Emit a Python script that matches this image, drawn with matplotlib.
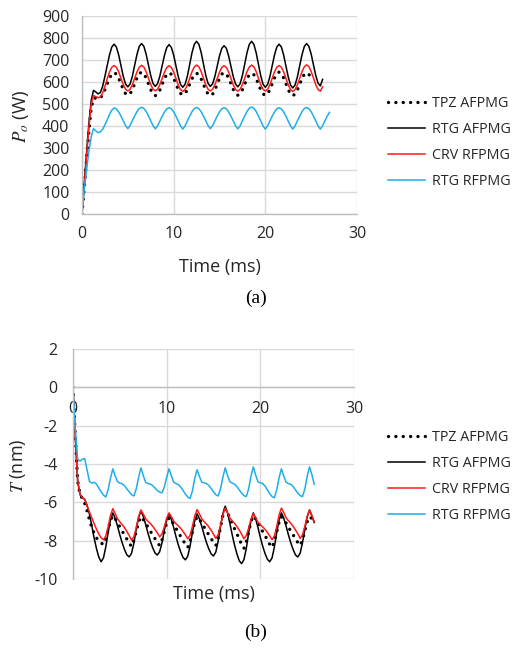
import numpy as np
import matplotlib
matplotlib.use('Agg')
import matplotlib.pyplot as plt

plt.rcParams['font.family'] = ['Open Sans', 'DejaVu Sans']
plt.rcParams['mathtext.fontset'] = 'stix'
plt.rcParams['axes.unicode_minus'] = False

# ---------------- data ----------------
step = 0.25
time_top = np.arange(0, 27.0 + 1e-9, step)
time_bot = np.arange(0, 25.75 + 1e-9, step)

labels = ['TPZ AFPMG', 'RTG AFPMG', 'CRV RFPMG', 'RTG RFPMG']

# (a) output power Po (W)
po_tpz_afpmg = [
    0, 120, 250, 375, 480, 525, 527, 523, 527, 542, 565, 592,
    617, 636, 643, 636, 617, 592, 566, 547, 540, 547, 566, 592,
    619, 638, 645, 638, 618, 592, 565, 545, 538, 545, 564, 590,
    616, 635, 642, 635, 617, 592, 566, 548, 541, 548, 566, 590,
    615, 633, 640, 633, 614, 589, 564, 545, 538, 545, 564, 590,
    617, 636, 643, 636, 617, 592, 566, 547, 540, 547, 565, 590,
    615, 633, 640, 633, 615, 590, 564, 546, 539, 546, 566, 592,
    618, 638, 645, 638, 618, 592, 565, 545, 538, 545, 564, 590,
    616, 635, 642, 635, 617]
po_rtg_afpmg = [
    0, 140, 280, 410, 515, 562, 555, 546, 552, 580, 626, 675,
    723, 759, 772, 759, 723, 675, 626, 591, 578, 591, 627, 677,
    726, 762, 775, 762, 726, 677, 629, 593, 580, 593, 628, 675,
    722, 757, 770, 757, 722, 673, 625, 589, 576, 590, 628, 680,
    733, 771, 785, 771, 734, 682, 631, 594, 580, 592, 626, 672,
    719, 753, 765, 753, 718, 671, 625, 591, 578, 592, 630, 681,
    733, 771, 785, 771, 733, 680, 628, 590, 576, 589, 625, 674,
    723, 759, 772, 759, 722, 672, 623, 586, 573, 587, 624, 674,
    724, 761, 775, 762, 727, 678, 630, 595, 582, 612]
po_crv_rfpmg = [
    0, 130, 265, 395, 500, 538, 534, 528, 532, 550, 580, 615,
    645, 667, 675, 667, 646, 617, 588, 567, 559, 567, 588, 617,
    646, 667, 676, 668, 646, 617, 588, 567, 560, 568, 589, 617,
    645, 666, 674, 666, 645, 616, 586, 565, 557, 566, 587, 617,
    647, 668, 677, 669, 647, 617, 588, 567, 559, 567, 588, 616,
    645, 666, 674, 666, 645, 616, 587, 566, 558, 567, 588, 617,
    647, 668, 677, 669, 647, 617, 588, 567, 559, 567, 588, 617,
    646, 667, 675, 667, 646, 616, 587, 566, 557, 566, 587, 617,
    647, 669, 678, 670, 648, 618, 588, 566, 558, 578]
po_rtg_rfpmg = [
    0, 110, 200, 285, 350, 388, 378, 370, 373, 385, 405, 428,
    452, 472, 482, 478, 464, 445, 424, 402, 388, 402, 425, 446,
    466, 480, 485, 480, 466, 446, 424, 401, 387, 401, 423, 445,
    464, 478, 483, 478, 464, 444, 423, 400, 386, 401, 424, 445,
    465, 479, 484, 479, 465, 445, 424, 402, 388, 402, 424, 445,
    464, 478, 483, 478, 464, 444, 423, 401, 387, 401, 424, 446,
    466, 481, 486, 481, 466, 445, 423, 400, 386, 401, 423, 445,
    464, 478, 483, 478, 464, 444, 422, 400, 386, 401, 424, 445,
    465, 479, 484, 479, 465, 445, 423, 400, 386, 401, 424, 445, 462]

# (b) torque T (nm)
t_tpz_afpmg = [
    0, -2.6, -4.9, -5.6, -5.8, -6.05, -6.45, -6.9, -7.3, -7.6, -7.85, -8.0,
    -8.12, -8.2, -7.9, -7.45, -6.97, -6.7, -6.86, -7.05, -7.28, -7.5, -7.71, -7.92,
    -8.14, -8.3, -7.99, -7.53, -7.03, -6.75, -6.9, -7.08, -7.29, -7.5, -7.7, -7.89,
    -8.1, -8.25, -7.96, -7.53, -7.06, -6.8, -6.96, -7.14, -7.36, -7.58, -7.78, -7.98,
    -8.2, -8.35, -8.03, -7.55, -7.04, -6.75, -6.9, -7.08, -7.29, -7.5, -7.7, -7.89,
    -8.1, -8.25, -7.87, -7.3, -6.69, -6.35, -6.56, -6.8, -7.09, -7.38, -7.64, -7.91,
    -8.2, -8.4, -8.06, -7.55, -7.01, -6.7, -6.87, -7.06, -7.29, -7.53, -7.74, -7.95,
    -8.19, -8.35, -8.03, -7.55, -7.04, -6.75, -6.9, -7.08, -7.29, -7.5, -7.7, -7.89,
    -8.1, -8.25, -7.95, -7.5, -7.02, -6.75, -6.85, -7.0]
t_rtg_afpmg = [
    0, -2.6, -4.9, -5.6, -5.75, -5.85, -6.15, -6.6, -7.2, -7.85, -8.4, -8.85,
    -9.1, -8.9, -8.33, -7.57, -6.93, -6.55, -6.83, -7.24, -7.7, -8.11, -8.46, -8.74,
    -8.85, -8.66, -8.13, -7.41, -6.81, -6.45, -6.73, -7.14, -7.6, -8.01, -8.36, -8.64,
    -8.75, -8.58, -8.11, -7.46, -6.92, -6.6, -6.89, -7.32, -7.8, -8.23, -8.59, -8.88,
    -9.0, -8.81, -8.28, -7.56, -6.96, -6.6, -6.86, -7.26, -7.7, -8.1, -8.43, -8.69,
    -8.8, -8.59, -8.02, -7.24, -6.59, -6.2, -6.56, -7.1, -7.7, -8.24, -8.69, -9.05,
    -9.2, -8.99, -8.41, -7.61, -6.95, -6.55, -6.86, -7.32, -7.83, -8.28, -8.67, -8.97,
    -9.1, -8.9, -8.33, -7.57, -6.93, -6.55, -6.83, -7.24, -7.7, -8.11, -8.46, -8.74,
    -8.85, -8.65, -8.12, -7.38, -6.77, -6.4, -6.7, -7.05]
t_crv_rfpmg = [
    0, -2.6, -4.9, -5.6, -5.75, -5.85, -6.2, -6.5, -6.8, -7.1, -7.4, -7.65,
    -7.85, -7.95, -7.76, -7.27, -6.69, -6.33, -6.58, -6.86, -7.02, -7.16, -7.32, -7.52,
    -7.73, -7.98, -7.79, -7.32, -6.75, -6.4, -6.61, -6.85, -6.99, -7.1, -7.24, -7.41,
    -7.59, -7.8, -7.65, -7.28, -6.83, -6.55, -6.75, -6.98, -7.12, -7.23, -7.36, -7.52,
    -7.7, -7.9, -7.72, -7.26, -6.71, -6.38, -6.61, -6.86, -7.01, -7.13, -7.28, -7.46,
    -7.66, -7.88, -7.69, -7.22, -6.65, -6.3, -6.54, -6.81, -6.97, -7.1, -7.26, -7.45,
    -7.66, -7.9, -7.74, -7.35, -6.89, -6.6, -6.8, -7.03, -7.17, -7.28, -7.41, -7.57,
    -7.75, -7.95, -7.75, -7.26, -6.66, -6.3, -6.54, -6.81, -6.96, -7.09, -7.25, -7.44,
    -7.64, -7.88, -7.7, -7.26, -6.73, -6.4, -6.7, -7.0]
t_rtg_rfpmg = [
    0, -2.2, -3.75, -3.85, -3.75, -3.72, -4.3, -4.9, -5.0, -4.95, -5.05, -5.25,
    -5.45, -5.62, -5.72, -5.35, -4.75, -4.25, -4.62, -4.92, -5.0, -5.03, -5.13, -5.3,
    -5.45, -5.6, -5.67, -5.3, -4.7, -4.2, -4.6, -4.95, -5.02, -5.05, -5.12, -5.25,
    -5.38, -5.47, -5.5, -5.2, -4.7, -4.25, -4.62, -4.95, -5.02, -5.08, -5.2, -5.38,
    -5.57, -5.72, -5.8, -5.4, -4.75, -4.3, -4.65, -4.95, -4.98, -5.02, -5.12, -5.28,
    -5.45, -5.6, -5.67, -5.3, -4.7, -4.2, -4.6, -4.92, -5.0, -5.05, -5.18, -5.35,
    -5.52, -5.65, -5.7, -5.3, -4.65, -4.15, -4.58, -4.93, -4.98, -5.02, -5.15, -5.35,
    -5.55, -5.7, -5.76, -5.35, -4.72, -4.25, -4.63, -4.95, -5.02, -5.06, -5.17, -5.35,
    -5.52, -5.65, -5.7, -5.3, -4.65, -4.15, -4.55, -5.05]

xticks = [0, 10, 20, 30]
yticks_top = [0, 100, 200, 300, 400, 500, 600, 700, 800, 900]
yticks_bot = [2, 0, -2, -4, -6, -8, -10]

# ---------------- styles ----------------
BLUE = '#1eaee8'
RED = '#ff1a1a'
GRID = '#d9d9d9'
AXIS = '#bfbfbf'
TXT = '#262626'

def dotted(ax, x, y, label):
    return ax.plot(x, y, color='black', lw=2.4, linestyle=(0, (0.01, 2.2)),
                   dash_capstyle='round', label=label)[0]

W, H = 512, 650
fig = plt.figure(figsize=(W / 100, H / 100), dpi=100)

def px_axes(l, t, r, b):
    return fig.add_axes([l / W, 1 - b / H, (r - l) / W, (b - t) / H])

ax1 = px_axes(82, 16, 357, 214)
ax2 = px_axes(73, 349, 354, 579)

for ax in (ax1, ax2):
    ax.set_xlim(0, 30)
    ax.set_xticks(xticks)
    ax.grid(True, color=GRID, lw=1.0)
    ax.set_axisbelow(True)
    for s in ('top', 'right'):
        ax.spines[s].set_visible(False)
    for s in ('left', 'bottom'):
        ax.spines[s].set_color(AXIS)
        ax.spines[s].set_linewidth(1.0)
    ax.tick_params(length=0, labelsize=11.5, colors=TXT)

ax1.set_ylim(0, 900)
ax1.set_yticks(yticks_top)
ax1.tick_params(axis='y', pad=9)
ax1.tick_params(axis='x', pad=9)

ax2.set_ylim(-10, 2)
ax2.set_yticks(yticks_bot)
ax2.spines['bottom'].set_position(('data', 0))
ax2.tick_params(axis='y', pad=11)
ax2.tick_params(axis='x', pad=10)

def series(ax, t, a, b, c, d):
    h1 = dotted(ax, t[:len(a)], a, labels[0])
    h2 = ax.plot(t[:len(b)], b, color='black', lw=1.1, label=labels[1])[0]
    h3 = ax.plot(t[:len(c)], c, color=RED, lw=1.1, label=labels[2])[0]
    h4 = ax.plot(t[:len(d)], d, color=BLUE, lw=1.1, label=labels[3])[0]
    return [h1, h2, h3, h4]

hs1 = series(ax1, time_top, po_tpz_afpmg, po_rtg_afpmg, po_crv_rfpmg, po_rtg_rfpmg)
hs2 = series(ax2, time_bot, t_tpz_afpmg, t_rtg_afpmg, t_crv_rfpmg, t_rtg_rfpmg)

leg_kw = dict(loc='upper left', frameon=False, fontsize=10.3, handlelength=2.6,
              handletextpad=0.5, labelspacing=0.76, borderpad=0, borderaxespad=0,
              labelcolor=TXT)
fig.legend(hs1, labels, bbox_to_anchor=(388 / W, 1 - 96 / H), **leg_kw)
fig.legend(hs2, labels, bbox_to_anchor=(388 / W, 1 - 430 / H), **leg_kw)

fig.text(220 / W, 1 - 267 / H, 'Time (ms)', ha='center', va='center', fontsize=13, color=TXT)
fig.text(214 / W, 1 - 594 / H, 'Time (ms)', ha='center', va='center', fontsize=13, color=TXT)
fig.text(21 / W, 1 - 116 / H, r'$\mathit{P_o}$ (W)', rotation=90, ha='center', va='center',
         fontsize=13.5, color=TXT)
fig.text(18 / W, 1 - 466 / H, r'$\mathit{T}$ (nm)', rotation=90, ha='center', va='center',
         fontsize=13, color=TXT)
fig.text(256 / W, 1 - 298 / H, '(a)', ha='center', va='center', fontsize=14,
         family='Liberation Serif', color='black')
fig.text(256 / W, 1 - 632 / H, '(b)', ha='center', va='center', fontsize=14,
         family='Liberation Serif', color='black')

fig.savefig('out.png', dpi=100)
